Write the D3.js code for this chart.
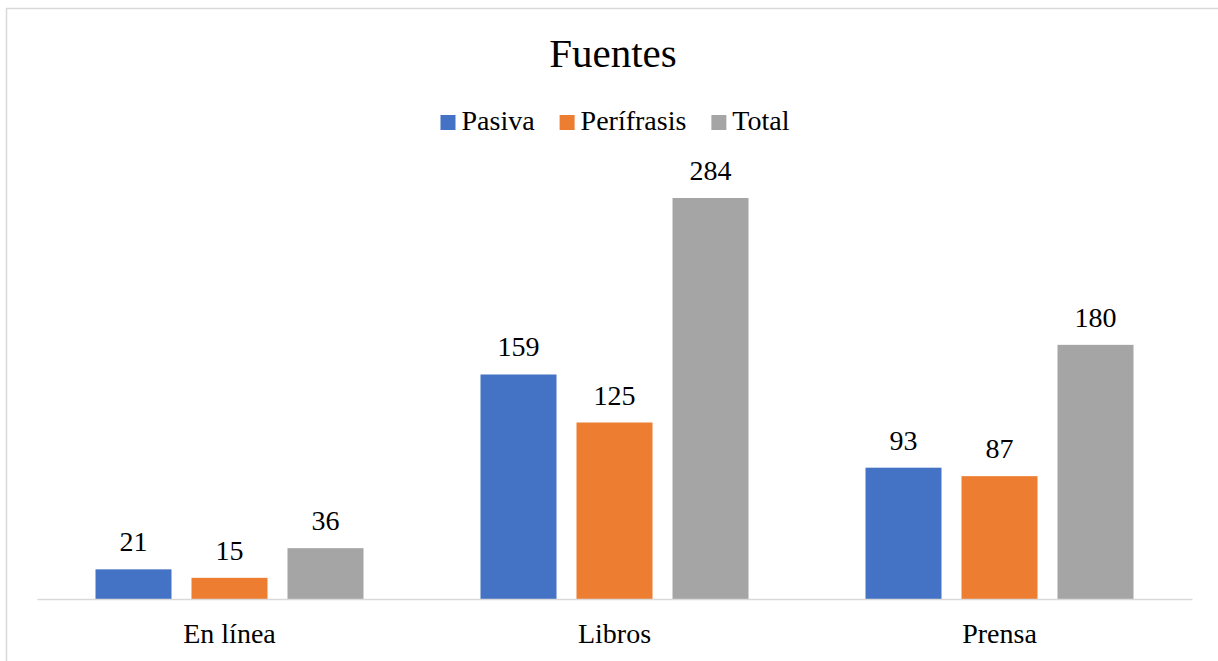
<!DOCTYPE html>
<html>
<head>
<meta charset="utf-8">
<script src="https://cdn.jsdelivr.net/npm/d3@7/dist/d3.min.js"></script>
<style>
html,body{margin:0;padding:0;background:#fff;}
svg{display:block;}
svg text{font-family:"Liberation Serif",Tinos,"Times New Roman","DejaVu Serif",serif !important;}
</style>
</head>
<body>
<svg id="chart" width="1218" height="661"></svg>
<script>
const categories = ["En línea", "Libros", "Prensa"];
const seriesNames = ["Pasiva", "Perífrasis", "Total"];
const pasiva = [21, 159, 93];
const perifrasis = [15, 125, 87];
const total = [36, 284, 180];
const colors = ["#4472C4", "#ED7D31", "#A5A5A5"];
const title = "Fuentes";

const FONT = '"Liberation Serif", Tinos, "Times New Roman", "DejaVu Serif", serif';
const seriesValues = [pasiva, perifrasis, total];
const svg = d3.select("#chart");

// chart border
svg.append("rect").attr("x", 6.5).attr("y", 8.5).attr("width", 1230).attr("height", 670)
  .attr("fill", "#fff").attr("stroke", "#d9d9d9").attr("stroke-width", 1.5);

const plotLeft = 37, plotRight = 1192, baseY = 599;
const x0 = d3.scaleBand().domain(categories).range([plotLeft, plotRight]).paddingInner(0).paddingOuter(0);
const groupW = 268;
const x1 = d3.scaleBand().domain(seriesNames).range([0, groupW]).paddingInner(20/96).paddingOuter(0);
const y = d3.scaleLinear().domain([0, 284]).range([baseY, 198]);

const groups = svg.append("g").selectAll("g").data(categories).join("g")
  .attr("transform", c => `translate(${x0(c) + (x0.bandwidth() - groupW)/2},0)`);

groups.each(function(c, ci) {
  const g = d3.select(this);
  seriesNames.forEach((s, si) => {
    const v = seriesValues[si][ci];
    g.append("rect").attr("x", x1(s)).attr("y", y(v)).attr("width", x1.bandwidth())
      .attr("height", baseY - y(v)).attr("fill", colors[si]);
    g.append("text").attr("x", x1(s) + x1.bandwidth()/2).attr("y", y(v) - 18)
      .attr("text-anchor", "middle").attr("font-size", 28).attr("font-family", FONT).attr("fill", "#000").text(v);
  });
});

// baseline axis
const xAxis = d3.axisBottom(x0).tickSize(0).tickPadding(0);
const ax = svg.append("g").attr("transform", `translate(0,${baseY})`).call(xAxis);
ax.attr("font-family", FONT);
ax.select(".domain").attr("stroke", "#d9d9d9").attr("stroke-width", 1.5);
ax.selectAll(".tick text").attr("font-size", 28).attr("font-family", FONT)
  .attr("fill", "#000").attr("dy", 0).attr("y", 44);

// title
svg.append("text").attr("x", 613).attr("y", 67).attr("text-anchor", "middle")
  .attr("font-size", 41).attr("font-family", FONT).attr("fill", "#000").text(title);

// legend
const leg = svg.append("g");
let cx = 0;
seriesNames.forEach((s, i) => {
  const it = leg.append("g").attr("transform", `translate(${cx},0)`);
  it.append("rect").attr("x", 0).attr("y", 115).attr("width", 15).attr("height", 15).attr("fill", colors[i]);
  const t = it.append("text").attr("x", 21).attr("y", 130).attr("font-size", 28).attr("font-family", FONT).attr("fill", "#000").text(s);
  const w = t.node().getComputedTextLength();
  cx += 21 + w + 25;
});
const legW = cx - 25;
leg.attr("transform", `translate(${615 - legW/2},0)`);
</script>
</body>
</html>
